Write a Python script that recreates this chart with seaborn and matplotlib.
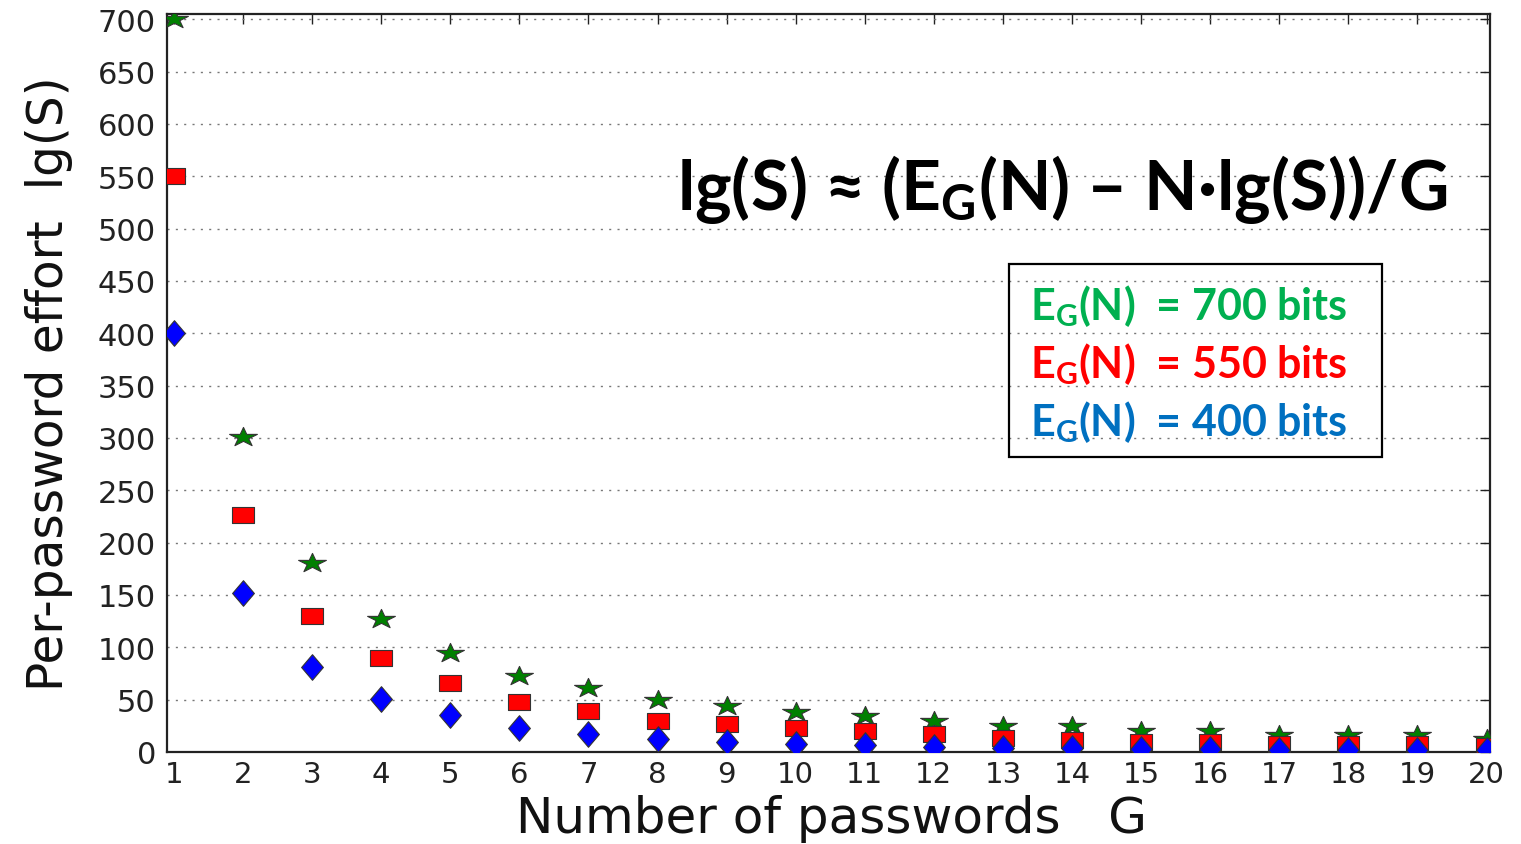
import matplotlib
matplotlib.use("Agg")
import numpy as np
import pandas as pd
import matplotlib.pyplot as plt
from matplotlib.path import Path
from matplotlib.markers import MarkerStyle
from matplotlib.patches import Rectangle
import seaborn as sns

# Number of passwords G and per-password effort lg(S) for three entropy budgets
passwords = list(range(1, 21))
effort_700 = [700, 301, 181, 127, 95, 73, 61, 50, 44, 38, 34, 30, 25, 25, 20, 20, 16, 16, 16, 12]
effort_550 = [550, 226, 130, 90, 66, 48, 39, 30, 27, 23, 20, 17, 13, 11, 10, 10, 8, 8, 8, 6]
effort_400 = [400, 152, 81, 51, 35, 23, 17, 12, 10, 8, 7, 5, 4, 4, 3, 3, 2, 2, 2, 2]
budget_labels = ["700 bits", "550 bits", "400 bits"]
y_ticks = list(range(0, 701, 50))

sns.set_theme(style="white")
plt.rcParams["font.family"] = ["DejaVu Sans"]
plt.rcParams["mathtext.fontset"] = "custom"
plt.rcParams["mathtext.bf"] = "Lato:bold"
plt.rcParams["mathtext.rm"] = "Lato:bold"
plt.rcParams["mathtext.it"] = "Lato:bold"
plt.rcParams["mathtext.default"] = "bf"

W, H = 1521, 845
fig = plt.figure(figsize=(W / 100, H / 100), dpi=100)
ax = fig.add_axes([167 / W, 92 / H, (1490 - 167) / W, (753 - 15) / H])

# Marker shapes: wide star, wide rectangle, narrow diamond
star = Path.unit_regular_star(5, 0.38)
star_marker = MarkerStyle(Path(star.vertices * np.array([1.45, 1.0]), star.codes))
rect_marker = MarkerStyle(Path([(-1, -0.72), (1, -0.72), (1, 0.72), (-1, 0.72), (-1, -0.72)],
                               [Path.MOVETO, Path.LINETO, Path.LINETO, Path.LINETO, Path.CLOSEPOLY]))
diam_marker = MarkerStyle(Path([(0, -1), (0.85, 0), (0, 1), (-0.85, 0), (0, -1)],
                               [Path.MOVETO, Path.LINETO, Path.LINETO, Path.LINETO, Path.CLOSEPOLY]))

series = [
    (effort_700, star_marker, "#008000", 400),
    (effort_550, rect_marker, "#ff0000", 260),
    (effort_400, diam_marker, "#0000ff", 340),
]
for values, mk, col, size in series:
    sns.scatterplot(x=passwords, y=values, marker=mk, color=col, s=size,
                    edgecolor="#333333", linewidth=0.8, ax=ax, legend=False, zorder=3)

ax.set_xlim(0.9, 20.05)
ax.set_ylim(0, 705)
ax.set_xticks(passwords)
ax.set_yticks(y_ticks)
ax.yaxis.grid(True, linestyle=(0, (1.5, 4.5)), color="#777777", linewidth=1.0)
ax.xaxis.grid(False)
ax.tick_params(direction="in", length=7, width=1, top=True, right=True,
               labelsize=21, labelcolor="#222222", color="#222222")
ax.tick_params(axis="x", pad=6)
ax.tick_params(axis="y", labelsize=22, pad=8)
for sp in ax.spines.values():
    sp.set_color("#222222")
    sp.set_linewidth(1.6)

ax.set_ylabel("Per-password effort  lg(S)", fontsize=35, color="#111111")
ax.yaxis.set_label_coords(-0.071, 0.5)
ax.set_xlabel("Number of passwords   G", fontsize=36, color="#111111")
ax.xaxis.label.set_va("baseline")
ax.xaxis.set_label_coords(0.502, -0.1084)

# Formula
formula = "lg(S) \u2248 ($E_G$(N) \u2013 N\u00b7lg(S))/G"
fig.text(1447 / W, (845 - 210) / H, formula, family="Lato", weight="bold",
         ha="right", va="baseline", fontsize=50, color="black")

# Budget key
fig.patches.append(Rectangle((1009 / W, (845 - 458) / H), (1382 - 1009) / W, (458 - 265) / H,
                             transform=fig.transFigure, fill=False, edgecolor="black",
                             linewidth=1.6, figure=fig))
key_colors = ["#00b050", "#ff0000", "#0070c0"]
baselines = [320, 378, 436]
for lab, col, by in zip(budget_labels, key_colors, baselines):
    fig.text(1030 / W, (845 - by) / H, "$E_G$(N)  = " + lab, family="Lato", weight="bold",
             ha="left", va="baseline", fontsize=31, color=col)

fig.savefig("out.png", dpi=100)
